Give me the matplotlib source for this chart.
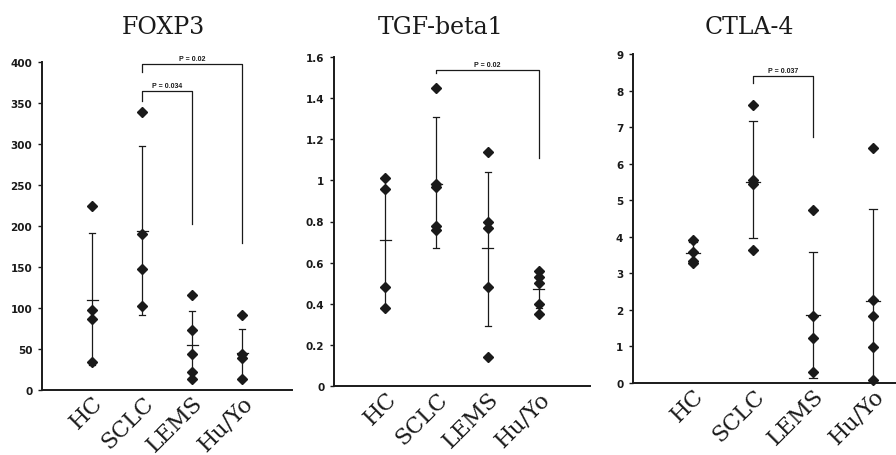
import matplotlib
matplotlib.use("Agg")
import matplotlib.pyplot as plt
from matplotlib.transforms import ScaledTranslation

# categories shared by all three panels
groups = ["HC", "SCLC", "LEMS", "Hu/Yo"]

# FOXP3
foxp3_pts = [[224, 97, 87, 34], [339, 190, 148, 103], [116, 73, 44, 22, 14], [92, 44, 39, 14]]
foxp3_mean = [110, 194, 55, 45]
foxp3_hi = [191, 298, 96, 74]
foxp3_lo = [30, 92, 15, 16]
foxp3_ticks = [0, 50, 100, 150, 200, 250, 300, 350, 400]

# TGF-beta1
tgf_pts = [[1.01, 0.96, 0.48, 0.38], [1.45, 0.98, 0.97, 0.78, 0.76],
           [1.14, 0.80, 0.77, 0.48, 0.14], [0.56, 0.53, 0.50, 0.40, 0.35]]
tgf_mean = [0.71, 0.98, 0.67, 0.47]
tgf_hi = [0.95, 1.31, 1.04, 0.55]
tgf_lo = [0.38, 0.67, 0.29, 0.38]
tgf_ticks = [0, 0.2, 0.4, 0.6, 0.8, 1, 1.2, 1.4, 1.6]

# CTLA-4
ctla_pts = [[3.90, 3.58, 3.35, 3.28], [7.6, 5.54, 5.45, 3.65],
            [4.74, 1.83, 1.24, 0.30], [6.43, 2.26, 1.83, 0.98, 0.07]]
ctla_mean = [3.55, 5.5, 1.85, 2.25]
ctla_hi = [3.85, 7.18, 3.58, 4.77]
ctla_lo = [3.25, 3.96, 0.15, 0.0]
ctla_ticks = [0, 1, 2, 3, 4, 5, 6, 7, 8, 9]

# brackets: (from group, to group, top, left leg end, right leg end, label)
foxp3_brackets = [(1, 3, 398, 388, 179, "P = 0.02"), (1, 2, 365, 353, 202, "P = 0.034")]
tgf_brackets = [(1, 3, 1.535, 1.52, 1.11, "P = 0.02")]
ctla_brackets = [(1, 2, 8.4, 8.2, 6.72, "P = 0.037")]

ink = "#1a1a1a"

fig = plt.figure(figsize=(8.96, 4.56), dpi=100)


def draw_panel(rect, xmax, pts, mean, hi, lo, ticks, ymax, brackets, title, title_x):
    ax = fig.add_axes(rect)
    for i, vals in enumerate(pts):
        x = i + 1
        ax.plot([x, x], [lo[i], hi[i]], color=ink, lw=0.9, solid_capstyle="butt")
        ax.plot([x - 0.06, x + 0.06], [hi[i], hi[i]], color=ink, lw=0.9)
        ax.plot([x - 0.06, x + 0.06], [lo[i], lo[i]], color=ink, lw=0.9)
        ax.plot([x - 0.11, x + 0.11], [mean[i], mean[i]], color=ink, lw=0.9)
        ax.plot([x] * len(vals), vals, "D", color=ink, ms=5.5, ls="none", clip_on=False)
    for a, b, top, la, lb, lab in brackets:
        ax.plot([a + 1, a + 1, b + 1, b + 1], [la, top, top, lb], color=ink, lw=0.9,
                clip_on=False)
        ax.text((a + b) / 2 + 1, top + ymax * 0.006, lab, ha="center", va="bottom",
                fontsize=5, fontweight="bold", family="Liberation Sans", color=ink)
    ax.set_xlim(0, xmax)
    ax.set_ylim(0, ymax)
    ax.set_yticks(ticks)
    ax.set_yticklabels([("%g" % t) for t in ticks], fontsize=7.5, fontweight="bold",
                       family="DejaVu Sans", color=ink)
    ax.set_xticks(range(1, len(groups) + 1))
    ax.set_xticklabels(groups, rotation=45, ha="right", va="top", rotation_mode="anchor",
                       fontsize=16, family="DejaVu Serif", color=ink)
    # nudge the slanted group names a little to the right, as in the original
    shift = ScaledTranslation(0.07, 0, fig.dpi_scale_trans)
    for lbl in ax.get_xticklabels():
        lbl.set_transform(lbl.get_transform() + shift)
    ax.tick_params(axis="x", length=0, pad=1)
    ax.tick_params(axis="y", direction="out", length=3, width=1, pad=4, colors=ink)
    for s in ["top", "right"]:
        ax.spines[s].set_visible(False)
    for s in ["left", "bottom"]:
        ax.spines[s].set_linewidth(1.4)
        ax.spines[s].set_color(ink)
    fig.text(title_x, 0.94, title, ha="center", va="center", fontsize=17,
             family="DejaVu Serif", color=ink)
    return ax


draw_panel([42 / 896, 65 / 456, 250 / 896, 328 / 456], 5.0, foxp3_pts, foxp3_mean,
           foxp3_hi, foxp3_lo, foxp3_ticks, 400, foxp3_brackets, "FOXP3", 163 / 896)
draw_panel([334 / 896, 69 / 456, 256 / 896, 329 / 456], 5.0, tgf_pts, tgf_mean,
           tgf_hi, tgf_lo, tgf_ticks, 1.6, tgf_brackets, "TGF-beta1", 441 / 896)
draw_panel([633 / 896, 72 / 456, 267 / 896, 329 / 456], 4.45, ctla_pts, ctla_mean,
           ctla_hi, ctla_lo, ctla_ticks, 9, ctla_brackets, "CTLA-4", 749 / 896)

fig.savefig("out.png", dpi=100, facecolor="white")
